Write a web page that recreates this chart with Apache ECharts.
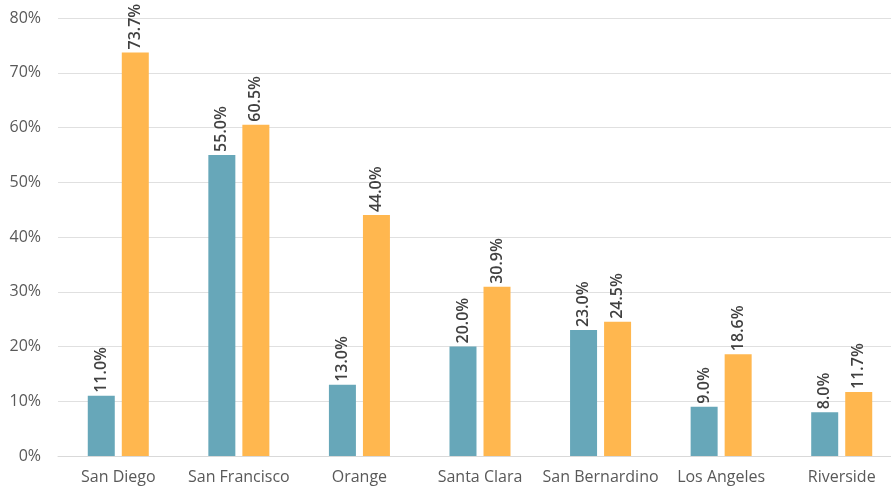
<!DOCTYPE html>
<html><head><meta charset="utf-8">
<script src="https://cdn.jsdelivr.net/npm/echarts@6/dist/echarts.min.js"></script>
<style>html,body{margin:0;padding:0;background:#fff;overflow:hidden}#c{width:902px;height:491px}</style>
</head><body><div id="c"></div>
<script>
const categories = ['San Diego','San Francisco','Orange','Santa Clara','San Bernardino','Los Angeles','Riverside'];
const seriesA = [11.0,55.0,13.0,20.0,23.0,9.0,8.0];
const seriesB = [73.7,60.5,44.0,30.9,24.5,18.6,11.7];
const yTicks = {min:0,max:80,interval:10};
const font = '"Open Sans", Lato, sans-serif';
const labelCfg = {show:true,position:'top',rotate:90,align:'left',verticalAlign:'middle',distance:3,
  formatter:p=>p.value.toFixed(1)+'%',color:'#404040',fontSize:16,fontWeight:600,fontFamily:font};
const chart = echarts.init(document.getElementById('c'),null,{renderer:'canvas'});
chart.setOption({
  animation:false,
  grid:{left:58,top:18,bottom:35,right:0},
  xAxis:{type:'category',data:categories,
    axisLine:{lineStyle:{color:'#d9d9d9',width:1}},axisTick:{show:false},
    axisLabel:{color:'#595959',fontSize:16,fontFamily:font,margin:13,interval:0}},
  yAxis:{type:'value',min:yTicks.min,max:yTicks.max,interval:yTicks.interval,
    axisLine:{show:false},axisTick:{show:false},
    splitLine:{lineStyle:{color:'#e0e0e0',width:1}},
    axisLabel:{formatter:'{value}%',color:'#595959',fontSize:16,fontFamily:font,margin:17}},
  series:[
    {type:'bar',data:seriesA,barWidth:27,barGap:'26%',itemStyle:{color:'#67a7b9'},label:labelCfg},
    {type:'bar',data:seriesB,barWidth:27,itemStyle:{color:'#ffb74f'},label:labelCfg}
  ]
});
</script></body></html>
